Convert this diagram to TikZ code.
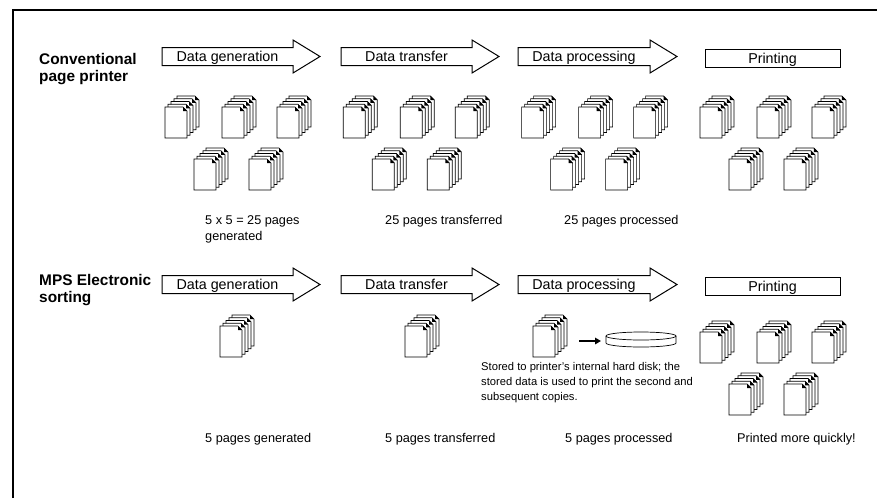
\documentclass[tikz,border=0pt]{standalone}
\usepackage{fontspec}
\setmainfont{Liberation Sans}
\usetikzlibrary{arrows.meta}

\tikzset{
  sheet/.style={draw=black, line width=0.7pt, fill=white, line join=miter},
  flowline/.style={draw=black, line width=1pt, fill=white, line join=miter},
  steplabel/.style={inner sep=0pt, anchor=base, font=\fontsize{14.3}{16}\selectfont},
  rowlabel/.style={inner sep=0pt, align=left, anchor=base west,
    font=\fontsize{15.4}{16.5}\selectfont\bfseries},
  caption/.style={inner sep=0pt, align=left, anchor=base west,
    font=\fontsize{12.7}{15.5}\selectfont},
  notetext/.style={inner sep=0pt, align=left, anchor=base west,
    font=\fontsize{11.2}{15}\selectfont},
  pointer/.style={line width=1.8pt, -{Triangle[length=6pt,width=6.5pt]}},
  % a stack of five sheets with a folded corner, front sheet top-left at the origin
  pics/pagestack/.style={code={
    \foreach \i in {4,3,2,1,0}{
      \begin{scope}[shift={(3*\i,-2.75*\i)}]
        \draw[sheet] (0,0) -- (18,0) -- (22,4) -- (22,31) -- (0,31) -- cycle;
        \fill[black] (18,0) -- (18,4) -- (22,4) -- cycle;
      \end{scope}
    }
  }}
}

% process arrow: #1 name, #2 left x, #3 tip x, #4 top y of body, #5 label
\newcommand{\flowarrow}[5]{%
  \draw[flowline] (#2,{#4}) -- ({#3-27},{#4}) -- ({#3-27},{#4-7.5})
    -- (#3,{#4+9}) -- ({#3-27},{#4+25.5}) -- ({#3-27},{#4+18})
    -- (#2,{#4+18}) -- cycle;
  \node[steplabel] (#1) at ({(#2+#3-27)/2},{#4+14}) {#5};
}

\begin{document}
\begin{tikzpicture}[x=1pt,y=-1pt]
\useasboundingbox (0,0) rectangle (877,498);

% outer frame (left and top edges)
\draw[line width=2pt] (13,498) -- (13,10.3) -- (877,10.3);

% ---------- conventional page printer ----------
\node[rowlabel] (convlabel) at (39,81) {Conventional\\page printer};

\flowarrow{cgen}{162}{320}{47.5}{Data generation}
\flowarrow{ctrans}{341}{499}{47.5}{Data transfer}
\flowarrow{cproc}{518}{677}{47.5}{Data processing}
\draw[flowline] (705,49) rectangle (840,67);
\node[steplabel] (cprint) at (772.5,63.5) {Printing};

\foreach \g in {0,1,2,3}{
  \pgfmathsetmacro{\gx}{165+178.3*\g}
  \pic at (\gx,107) {pagestack};
  \pic at (\gx+57,107) {pagestack};
  \pic at (\gx+112,107) {pagestack};
  \pic at (\gx+29,159) {pagestack};
  \pic at (\gx+84,159) {pagestack};
}

\node[caption] (cgencap) at (205,240) {5 x 5 = 25 pages\\generated};
\node[caption] (ctranscap) at (385,224.5) {25 pages transferred};
\node[caption] (cproccap) at (564,224.5) {25 pages processed};

% ---------- MPS electronic sorting ----------
\node[rowlabel] (mpslabel) at (39,302) {MPS Electronic\\sorting};

\flowarrow{mgen}{162}{320}{275.5}{Data generation}
\flowarrow{mtrans}{341}{499}{275.5}{Data transfer}
\flowarrow{mproc}{518}{677}{275.5}{Data processing}
\draw[flowline] (705,277) rectangle (840,295);
\node[steplabel] (mprint) at (772.5,291.5) {Printing};

\pic at (220,326) {pagestack};
\pic at (405,326) {pagestack};
\pic at (533,326) {pagestack};

% hard disk
\draw[sheet] (606,336) -- (606,343) arc[start angle=180, end angle=0,
  x radius=35, y radius=4] -- (676,336);
\draw[sheet] (641,336) ellipse [x radius=35, y radius=4];
\coordinate (stackout) at (579,341);
\coordinate (diskin) at (601,341);
\draw[pointer] (stackout) -- (diskin);

\node[notetext] (note) at (481,400)
  {Stored to printer's internal hard disk; the\\
   stored data is used to print the second and\\
   subsequent copies.};

\foreach \x/\y in {700/332, 757/332, 812/332, 729/384, 784/384}{
  \pic at (\x,\y) {pagestack};
}

\node[caption] (mgencap) at (205,442.5) {5 pages generated};
\node[caption] (mtranscap) at (385,442.5) {5 pages transferred};
\node[caption] (mproccap) at (565,442.5) {5 pages processed};
\node[caption] (mprintcap) at (737,442.5) {Printed more quickly!};
\end{tikzpicture}
\end{document}
